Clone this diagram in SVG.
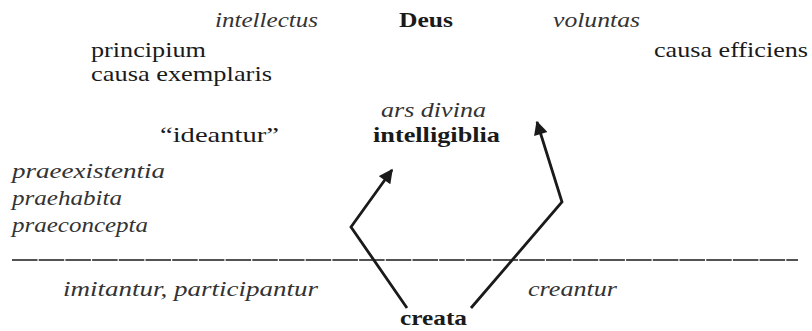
<svg xmlns="http://www.w3.org/2000/svg" width="812" height="331" viewBox="0 0 812 331">
<style>
text{font-size:22px;fill:#1a1a1a}
.i{font-style:italic;fill:#333}
.b{font-weight:bold}
.c{stroke:#1a1a1a;stroke-width:2.8;fill:none}
</style>
<defs>
<marker id="ah" viewBox="0 0 10 10" refX="9" refY="5" markerWidth="5.5" markerHeight="5" orient="auto" markerUnits="strokeWidth">
<path d="M0,0 L10,5 L0,10 Z" fill="#1a1a1a"/>
</marker>
</defs>
<rect width="812" height="331" fill="#fff"/>
<g font-family="Liberation Serif, Times New Roman, serif">
<g id="deus"><text class="b" x="399" y="27" textLength="54" lengthAdjust="spacingAndGlyphs">Deus</text></g>
<g id="intellectus"><text class="i" x="215" y="27" textLength="103" lengthAdjust="spacingAndGlyphs">intellectus</text></g>
<g id="voluntas"><text class="i" x="553" y="27" textLength="87" lengthAdjust="spacingAndGlyphs">voluntas</text></g>
<g id="principium"><text x="91" y="57" textLength="115" lengthAdjust="spacingAndGlyphs">principium</text>
<text x="91" y="81" textLength="181" lengthAdjust="spacingAndGlyphs">causa exemplaris</text></g>
<g id="efficiens"><text x="654" y="57" textLength="154" lengthAdjust="spacingAndGlyphs">causa efficiens</text></g>
<g id="ars"><text class="i" x="381" y="117" textLength="105" lengthAdjust="spacingAndGlyphs">ars divina</text></g>
<g id="intelligiblia"><text class="b" x="373" y="142" textLength="127" lengthAdjust="spacingAndGlyphs">intelligiblia</text></g>
<g id="ideantur"><text x="160" y="142" textLength="119" lengthAdjust="spacingAndGlyphs">“ideantur”</text></g>
<g id="prae"><text class="i" x="12" y="178" textLength="153" lengthAdjust="spacingAndGlyphs">praeexistentia</text>
<text class="i" x="12" y="205" textLength="110" lengthAdjust="spacingAndGlyphs">praehabita</text>
<text class="i" x="12" y="232" textLength="136" lengthAdjust="spacingAndGlyphs">praeconcepta</text></g>
<g id="imitantur"><text class="i" x="63" y="296" textLength="255" lengthAdjust="spacingAndGlyphs">imitantur, participantur</text></g>
<g id="creantur"><text class="i" x="528" y="296" textLength="89" lengthAdjust="spacingAndGlyphs">creantur</text></g>
<g id="creata"><text class="b" x="400" y="325" textLength="67" lengthAdjust="spacingAndGlyphs">creata</text></g>
</g>
<g id="connectors">
<line x1="12" y1="260" x2="798" y2="260" stroke="#1a1a1a" stroke-width="1.4" stroke-dasharray="25.5 1.2"/>
<polyline class="c" points="407,308 351,227 392,170" marker-end="url(#ah)"/>
<polyline class="c" points="471,308 562,202 537,122" marker-end="url(#ah)"/>
</g>
</svg>
